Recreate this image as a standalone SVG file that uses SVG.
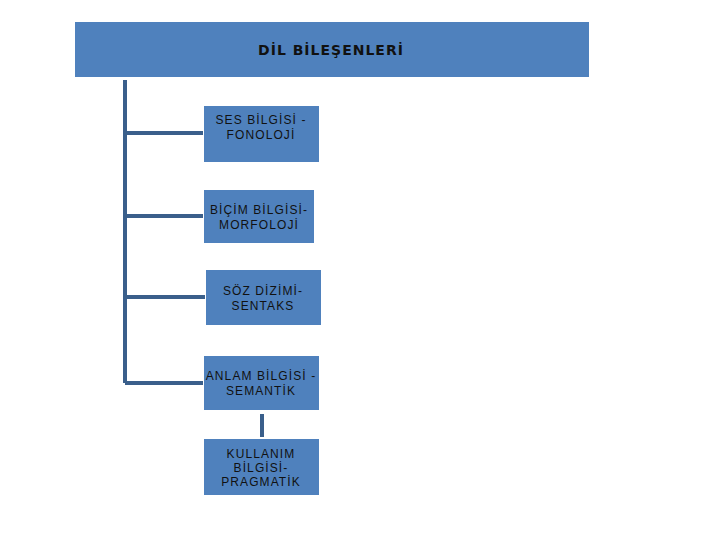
<svg xmlns="http://www.w3.org/2000/svg" width="720" height="540" viewBox="0 0 720 540">
<style>
.box{fill:#4f81bd}
.t{font-family:"Liberation Sans",Arial,sans-serif;font-size:12px;letter-spacing:1.1px;fill:#111;text-anchor:middle}
.h{font-family:"DejaVu Sans",Verdana,sans-serif;font-size:14px;letter-spacing:1px;font-weight:bold;fill:#111;text-anchor:middle}
.c{stroke:#3a5f8b;stroke-width:4;fill:none}
</style>
<rect width="720" height="540" fill="#fff"/>
<g id="connectors">
<path class="c" d="M125 80V383"/>
<path class="c" d="M125 133H203"/>
<path class="c" d="M125 216H203"/>
<path class="c" d="M125 297H205"/>
<path class="c" d="M125 383H203"/>
<path class="c" d="M262 414V437"/>
</g>
<g id="root"><rect class="box" x="75" y="22" width="514" height="55"/><text class="h" x="331" y="55">DİL BİLEŞENLERİ</text></g>
<g id="n1"><rect class="box" x="204" y="106" width="115" height="56"/><text class="t" x="261" y="124">SES BİLGİSİ -</text><text class="t" x="261" y="139">FONOLOJİ</text></g>
<g id="n2"><rect class="box" x="204" y="190" width="110" height="53"/><text class="t" x="259" y="214">BİÇİM BİLGİSİ-</text><text class="t" x="259" y="229">MORFOLOJİ</text></g>
<g id="n3"><rect class="box" x="206" y="270" width="115" height="55"/><text class="t" x="263" y="295">SÖZ DİZİMİ-</text><text class="t" x="263" y="310">SENTAKS</text></g>
<g id="n4"><rect class="box" x="204" y="356" width="115" height="54"/><text class="t" x="261" y="380">ANLAM BİLGİSİ -</text><text class="t" x="261" y="395">SEMANTİK</text></g>
<g id="n5"><rect class="box" x="204" y="439" width="115" height="56"/><text class="t" x="261" y="458">KULLANIM</text><text class="t" x="261" y="472">BİLGİSİ-</text><text class="t" x="261" y="486">PRAGMATİK</text></g>
</svg>
